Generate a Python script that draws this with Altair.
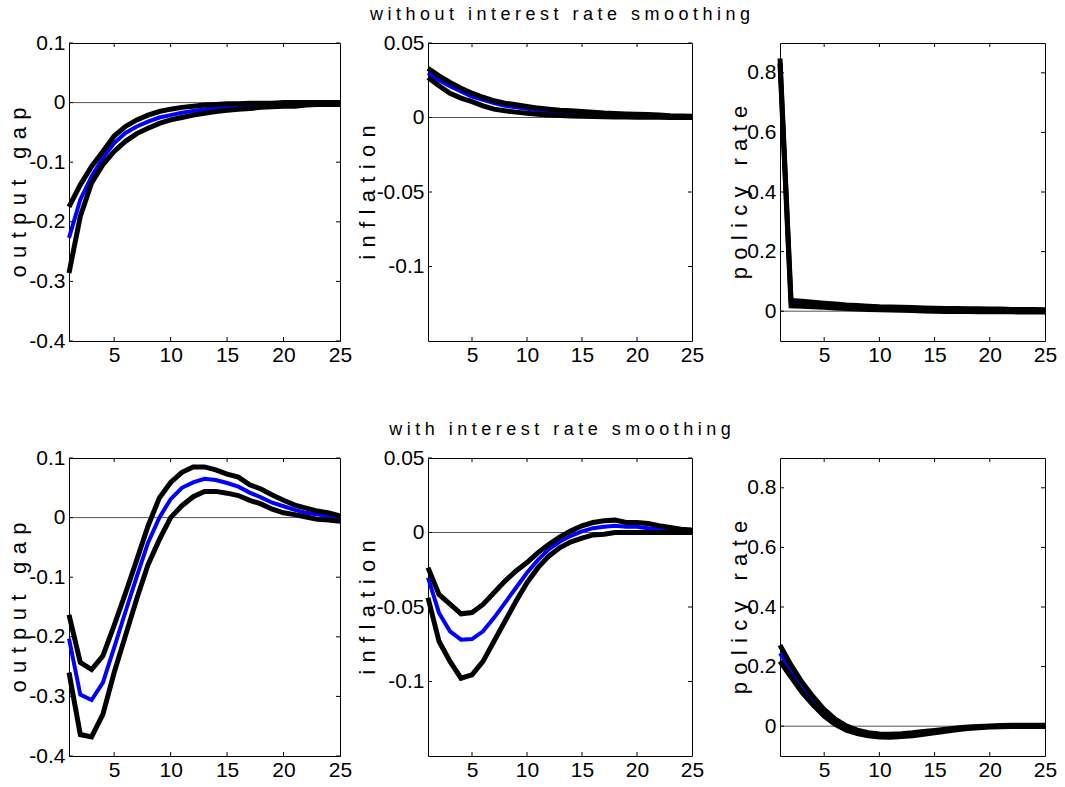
import altair as alt
import pandas as pd

steps = list(range(1, 26))
x_ticks = [5, 10, 15, 20, 25]

# ---- without interest rate smoothing ----
gap_nos_upper = [-0.175, -0.138, -0.107, -0.082, -0.056, -0.040, -0.029, -0.021, -0.015, -0.011,
                 -0.008, -0.006, -0.004, -0.003, -0.002, -0.002, -0.001, -0.001, -0.001, 0.000,
                 0.000, 0.000, 0.000, 0.000, 0.000]
gap_nos_mid = [-0.227, -0.163, -0.124, -0.093, -0.068, -0.051, -0.040, -0.032, -0.025, -0.021,
               -0.017, -0.014, -0.011, -0.009, -0.007, -0.006, -0.005, -0.004, -0.003, -0.003,
               -0.002, -0.002, -0.001, -0.001, -0.001]
gap_nos_lower = [-0.286, -0.191, -0.135, -0.104, -0.082, -0.065, -0.052, -0.043, -0.035, -0.029,
                 -0.025, -0.021, -0.018, -0.015, -0.013, -0.011, -0.010, -0.008, -0.007, -0.006,
                 -0.006, -0.004, -0.003, -0.003, -0.003]

inf_nos_upper = [0.0330, 0.0280, 0.0235, 0.0197, 0.0163, 0.0136, 0.0112, 0.0096, 0.0085, 0.0074,
                 0.0063, 0.0056, 0.0049, 0.0045, 0.0040, 0.0035, 0.0030, 0.0027, 0.0024, 0.0022,
                 0.0020, 0.0016, 0.0012, 0.0010, 0.0008]
inf_nos_mid = [0.0300, 0.0250, 0.0210, 0.0175, 0.0140, 0.0119, 0.0096, 0.0078, 0.0069, 0.0058,
               0.0048, 0.0042, 0.0036, 0.0031, 0.0027, 0.0023, 0.0020, 0.0017, 0.0015, 0.0013,
               0.0011, 0.0009, 0.0007, 0.0006, 0.0005]
inf_nos_lower = [0.0268, 0.0213, 0.0163, 0.0130, 0.0107, 0.0078, 0.0056, 0.0045, 0.0036, 0.0029,
                 0.0022, 0.0017, 0.0013, 0.0010, 0.0008, 0.0006, 0.0005, 0.0004, 0.0003, 0.0002,
                 0.0001, 0.0001, 0.0000, 0.0000, 0.0000]

pol_nos_upper = [0.848, 0.036, 0.033, 0.030, 0.027, 0.024, 0.021, 0.019, 0.017, 0.015,
                 0.014, 0.013, 0.012, 0.011, 0.010, 0.009, 0.009, 0.008, 0.008, 0.007,
                 0.007, 0.006, 0.006, 0.006, 0.005]
pol_nos_mid = [0.840, 0.027, 0.025, 0.022, 0.020, 0.017, 0.015, 0.013, 0.011, 0.010,
               0.009, 0.008, 0.007, 0.006, 0.005, 0.004, 0.004, 0.003, 0.003, 0.003,
               0.002, 0.002, 0.002, 0.002, 0.001]
pol_nos_lower = [0.832, 0.018, 0.017, 0.015, 0.013, 0.011, 0.009, 0.007, 0.006, 0.005,
                 0.004, 0.003, 0.002, 0.001, 0.000, -0.001, -0.001, -0.001, -0.002, -0.002,
                 -0.002, -0.002, -0.003, -0.003, -0.003]

# ---- with interest rate smoothing ----
gap_s_upper = [-0.163, -0.243, -0.255, -0.232, -0.181, -0.127, -0.071, -0.014, 0.033, 0.059,
               0.076, 0.085, 0.085, 0.080, 0.073, 0.068, 0.055, 0.048, 0.038, 0.029,
               0.021, 0.016, 0.011, 0.008, 0.003]
gap_s_mid = [-0.203, -0.297, -0.306, -0.277, -0.218, -0.158, -0.099, -0.042, 0.000, 0.031,
             0.050, 0.059, 0.065, 0.063, 0.058, 0.052, 0.042, 0.034, 0.025, 0.019,
             0.013, 0.008, 0.005, 0.003, 0.000]
gap_s_lower = [-0.260, -0.364, -0.368, -0.330, -0.260, -0.198, -0.136, -0.079, -0.037, 0.000,
               0.020, 0.035, 0.044, 0.044, 0.041, 0.037, 0.029, 0.023, 0.014, 0.008,
               0.005, 0.001, -0.003, -0.004, -0.006]

inf_s_upper = [-0.0236, -0.0416, -0.0480, -0.0546, -0.0537, -0.0483, -0.0404, -0.0326, -0.0258, -0.0202,
               -0.0135, -0.0079, -0.0029, 0.0011, 0.0045, 0.0067, 0.0079, 0.0083, 0.0067, 0.0067,
               0.0060, 0.0045, 0.0034, 0.0022, 0.0016]
inf_s_mid = [-0.0303, -0.0540, -0.0663, -0.0719, -0.0715, -0.0663, -0.0573, -0.0472, -0.0371, -0.0270,
             -0.0184, -0.0112, -0.0061, -0.0022, 0.0007, 0.0029, 0.0038, 0.0045, 0.0038, 0.0038,
             0.0029, 0.0020, 0.0016, 0.0011, 0.0007]
inf_s_lower = [-0.0438, -0.0730, -0.0865, -0.0978, -0.0955, -0.0865, -0.0730, -0.0596, -0.0461, -0.0337,
               -0.0236, -0.0157, -0.0101, -0.0063, -0.0038, -0.0016, -0.0011, 0.0000, 0.0000, 0.0000,
               0.0000, 0.0000, 0.0000, 0.0000, 0.0000]

pol_s_upper = [0.272, 0.205, 0.147, 0.099, 0.056, 0.024, 0.001, -0.013, -0.022, -0.026,
               -0.027, -0.025, -0.022, -0.018, -0.014, -0.010, -0.006, -0.003, -0.001, 0.001,
               0.002, 0.003, 0.003, 0.003, 0.003]
pol_s_mid = [0.245, 0.185, 0.130, 0.085, 0.045, 0.015, -0.006, -0.019, -0.027, -0.031,
             -0.032, -0.030, -0.027, -0.022, -0.018, -0.013, -0.009, -0.005, -0.003, -0.001,
             0.000, 0.001, 0.001, 0.001, 0.001]
pol_s_lower = [0.218, 0.165, 0.113, 0.071, 0.034, 0.006, -0.013, -0.025, -0.032, -0.036,
               -0.037, -0.035, -0.032, -0.027, -0.022, -0.017, -0.012, -0.008, -0.005, -0.003,
               -0.002, -0.001, -0.001, -0.001, -0.001]

gap_domain = [-0.4, 0.1]
gap_ticks = [0.1, 0, -0.1, -0.2, -0.3, -0.4]
inf_domain = [-0.15, 0.05]
inf_ticks = [0.05, 0, -0.05, -0.1]
pol_domain = [-0.1, 0.9]
pol_ticks = [0.8, 0.6, 0.4, 0.2, 0]

row_titles = ["without interest rate smoothing", "with interest rate smoothing"]
y_labels = ["output gap", "inflation", "policy rate"]

FONT = "Liberation Sans"
SP = "\u2004"


def spaced(text, sep):
    return sep.join(list(text))


def panel(upper, mid, lower, ydom, yticks, ylabel, width, height, title_x, title=None):
    df = pd.DataFrame({
        "t": steps * 3,
        "v": upper + mid + lower,
        "series": ["upper"] * 25 + ["mid"] * 25 + ["lower"] * 25,
    })
    xs = alt.Scale(domain=[1, 25], nice=False, zero=False)
    ys = alt.Scale(domain=ydom, nice=False, zero=False)
    x_axis = alt.Axis(values=x_ticks, title=None, labelFlush=False, labelOverlap=False,
                      labelPadding=3, labelExpr="'' + datum.value")
    y_axis = alt.Axis(values=yticks, title=spaced(ylabel, SP), labelOverlap=False,
                      labelPadding=4, labelExpr="'' + datum.value",
                      titleX=title_x, titleY=height / 2, titleAngle=-90,
                      titleBaseline="alphabetic", titleAlign="center")
    X = alt.X("t:Q", scale=xs, axis=x_axis)
    Y = alt.Y("v:Q", scale=ys, axis=y_axis)

    base = alt.Chart(df).encode(x=X, y=Y)
    zero = (alt.Chart(pd.DataFrame({"t": [1], "v": [0]}))
            .mark_rule(color="#555555", strokeWidth=1)
            .encode(y=Y))
    blue = base.transform_filter("datum.series == 'mid'").mark_line(
        color="#0000ff", strokeWidth=4, strokeJoin="miter")
    black = base.transform_filter("datum.series != 'mid'").mark_line(
        color="#000000", strokeWidth=5, strokeJoin="miter").encode(detail="series:N")

    xt = pd.DataFrame({"t": x_ticks[:-1]})
    yt = pd.DataFrame({"v": yticks})
    tick_style = dict(color="#000000", strokeWidth=1)
    xb = alt.Chart(xt).mark_rule(**tick_style).encode(
        x=X, y=alt.value(height - 4), y2=alt.value(height))
    xtop = alt.Chart(xt).mark_rule(**tick_style).encode(
        x=X, y=alt.value(0), y2=alt.value(4))
    yl = alt.Chart(yt).mark_rule(**tick_style).encode(
        y=Y, x=alt.value(0), x2=alt.value(4))
    yr = alt.Chart(yt).mark_rule(**tick_style).encode(
        y=Y, x=alt.value(width - 4), x2=alt.value(width))

    props = dict(width=width, height=height)
    if title is not None:
        props["title"] = alt.TitleParams(
            text=spaced(title, "\u2005"), fontSize=18, font=FONT, fontWeight="normal",
            color="#000000", anchor="middle", offset=8)
    return alt.layer(zero, blue, black, xb, xtop, yl, yr).properties(**props)


W1, W2, W3 = 271, 264, 265
H = 298

panels = [
    panel(gap_nos_upper, gap_nos_mid, gap_nos_lower, gap_domain, gap_ticks, y_labels[0], W1, H, -44),
    panel(inf_nos_upper, inf_nos_mid, inf_nos_lower, inf_domain, inf_ticks, y_labels[1], W2, H, -54,
          title=row_titles[0]),
    panel(pol_nos_upper, pol_nos_mid, pol_nos_lower, pol_domain, pol_ticks, y_labels[2], W3, H, -34),
    panel(gap_s_upper, gap_s_mid, gap_s_lower, gap_domain, gap_ticks, y_labels[0], W1, H, -44),
    panel(inf_s_upper, inf_s_mid, inf_s_lower, inf_domain, inf_ticks, y_labels[1], W2, H, -54,
          title=row_titles[1]),
    panel(pol_s_upper, pol_s_mid, pol_s_lower, pol_domain, pol_ticks, y_labels[2], W3, H, -34),
]

chart = alt.concat(*panels, columns=3, spacing=alt.RowColnumber(row=117, column=88),
                   bounds="flush").properties(
    padding={"left": 6, "top": 5, "right": 5, "bottom": 5},
    background="white",
).configure_view(
    stroke="#000000", strokeWidth=1
).configure_axis(
    grid=False, domain=False, ticks=False,
    labelFont=FONT, labelFontSize=21, labelColor="#000000",
    titleFont=FONT, titleFontSize=22, titleFontWeight="normal", titleColor="#000000",
)

chart.save("out.html", embed_options={"renderer": "svg", "actions": False})
